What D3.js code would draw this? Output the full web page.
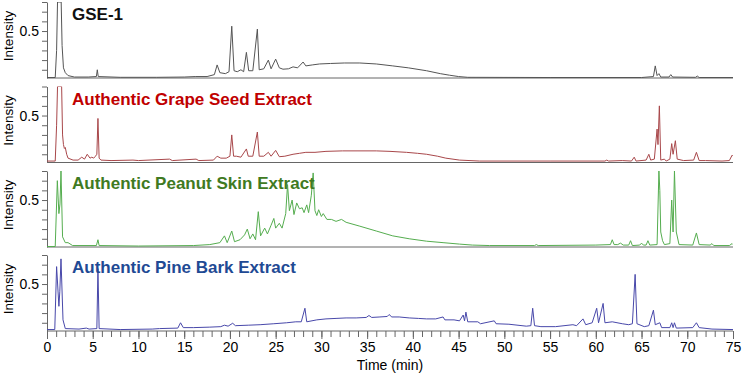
<!DOCTYPE html>
<html>
<head>
<meta charset="utf-8">
<script src="https://cdn.jsdelivr.net/npm/d3@7"></script>
<style>
  body { margin: 0; background: #fff; }
  text { font-family: "Liberation Sans", Arial, sans-serif; }
</style>
</head>
<body>
<div id="chart"></div>
<script>
// DATA (time in min, intensity)
const gse1 = [[0,0.02],[0.9,0.02],[1.05,0.3],[1.15,0.8],[1.55,0.8],[1.65,0.35],[1.8,0.12],[2.0,0.07],[2.3,0.04],[3,0.025],[4.5,0.025],[5.4,0.03],[5.5,0.1],[5.6,0.03],[8,0.022],[12,0.022],[15,0.025],[16.2,0.03],[17.5,0.03],[18.3,0.05],[18.6,0.15],[18.9,0.07],[19.5,0.06],[19.9,0.08],[20.2,0.55],[20.45,0.09],[20.8,0.08],[21.2,0.1],[21.5,0.08],[21.8,0.28],[22.05,0.09],[22.5,0.09],[23.0,0.52],[23.2,0.1],[23.7,0.11],[24.2,0.2],[24.5,0.11],[25.0,0.21],[25.4,0.12],[25.8,0.106],[26.4,0.11],[26.9,0.13],[27.4,0.12],[28.0,0.18],[28.3,0.14],[29.0,0.15],[29.8,0.16],[31,0.165],[32.5,0.17],[34.2,0.17],[36,0.16],[37.8,0.14],[39.5,0.12],[41.5,0.09],[43,0.06],[44,0.044],[45,0.03],[46,0.022],[55,0.02],[65,0.02],[66.3,0.03],[66.5,0.14],[66.7,0.04],[66.9,0.06],[67.1,0.025],[68.0,0.025],[68.2,0.05],[68.4,0.025],[70.9,0.022],[71.1,0.035],[71.3,0.02],[75,0.02]]

const grapeSeed = [[0,0.03],[0.9,0.03],[1.05,0.4],[1.15,0.8],[1.6,0.8],[1.7,0.3],[1.8,0.2],[1.9,0.16],[2.0,0.17],[2.15,0.1],[2.3,0.06],[2.85,0.04],[3.4,0.04],[3.8,0.07],[4.1,0.05],[4.4,0.1],[4.7,0.06],[4.9,0.07],[5.1,0.06],[5.3,0.08],[5.45,0.1],[5.57,0.47],[5.7,0.06],[5.9,0.04],[7,0.035],[9.4,0.04],[10,0.035],[13.4,0.05],[13.7,0.035],[16.3,0.05],[16.6,0.035],[18.2,0.04],[18.6,0.08],[19,0.06],[19.6,0.06],[20.0,0.08],[20.2,0.3],[20.4,0.08],[20.7,0.08],[21.2,0.07],[21.8,0.155],[22.0,0.08],[22.5,0.08],[23.0,0.33],[23.2,0.08],[23.7,0.08],[24.2,0.12],[24.5,0.08],[25.0,0.14],[25.4,0.075],[26.0,0.08],[26.9,0.1],[27.6,0.11],[28.3,0.12],[29.3,0.12],[30.5,0.13],[32.3,0.135],[34,0.135],[36,0.135],[37.5,0.13],[39.3,0.12],[40.5,0.11],[41.5,0.1],[42.7,0.08],[43.6,0.06],[45.1,0.04],[47.3,0.03],[55,0.03],[61,0.03],[61.2,0.04],[61.4,0.03],[62.9,0.035],[63.9,0.03],[64.2,0.07],[64.4,0.03],[65.5,0.04],[65.8,0.1],[66.0,0.04],[66.4,0.05],[66.7,0.36],[66.8,0.2],[66.95,0.6],[67.1,0.04],[67.5,0.05],[67.7,0.03],[68.1,0.05],[68.3,0.21],[68.45,0.1],[68.7,0.24],[68.9,0.05],[69.6,0.035],[70.7,0.04],[71.0,0.12],[71.3,0.035],[72,0.035],[73.8,0.03],[74.6,0.035],[74.9,0.09],[75,0.08]]

const peanutSkin = [[0,0.02],[0.9,0.02],[1.13,0.7],[1.3,0.36],[1.42,0.46],[1.53,0.8],[1.7,0.12],[2.0,0.06],[2.3,0.06],[2.8,0.03],[5.4,0.03],[5.57,0.09],[5.7,0.03],[10,0.025],[16,0.03],[17.8,0.04],[18.9,0.06],[19.4,0.13],[19.7,0.06],[20.2,0.18],[20.5,0.07],[21.1,0.09],[21.6,0.14],[21.9,0.2],[22.2,0.1],[22.5,0.15],[22.8,0.09],[23.1,0.38],[23.35,0.13],[23.8,0.21],[24.1,0.15],[24.5,0.24],[24.8,0.31],[25.0,0.21],[25.4,0.26],[25.7,0.21],[26.1,0.36],[26.3,0.66],[26.5,0.39],[26.8,0.5],[27.0,0.35],[27.3,0.47],[27.6,0.41],[27.9,0.42],[28.1,0.37],[28.4,0.45],[28.6,0.37],[28.9,0.55],[29.1,0.78],[29.3,0.39],[29.5,0.34],[29.7,0.4],[30.0,0.33],[30.2,0.36],[30.6,0.3],[31.1,0.3],[31.6,0.28],[32.2,0.3],[32.7,0.27],[34.2,0.23],[36,0.18],[37.8,0.13],[39.6,0.1],[41.5,0.075],[43.3,0.06],[45.1,0.045],[46.5,0.035],[48.4,0.03],[53.3,0.03],[53.5,0.04],[53.7,0.03],[60,0.035],[61.6,0.04],[61.8,0.09],[62.0,0.04],[62.4,0.04],[62.7,0.055],[63.0,0.035],[63.6,0.035],[63.8,0.08],[64.0,0.03],[64.8,0.035],[65.0,0.055],[65.2,0.035],[65.5,0.035],[65.7,0.08],[65.9,0.035],[66.7,0.04],[66.9,0.8],[67.0,0.6],[67.1,0.17],[67.3,0.08],[67.5,0.04],[68.1,0.05],[68.3,0.5],[68.45,0.17],[68.6,0.8],[68.8,0.17],[69.1,0.04],[70.6,0.035],[71.0,0.16],[71.3,0.04],[72.5,0.035],[72.7,0.05],[72.9,0.03],[74.6,0.03],[74.9,0.05],[75,0.04]]

const pineBark = [[0,0.03],[0.85,0.03],[1.05,0.68],[1.3,0.27],[1.4,0.42],[1.53,0.76],[1.75,0.13],[2.0,0.04],[3.5,0.035],[4.3,0.045],[4.6,0.035],[5.45,0.04],[5.57,0.66],[5.7,0.04],[8,0.03],[11.5,0.035],[12.3,0.04],[14.3,0.045],[14.6,0.1],[14.9,0.05],[16,0.05],[17.8,0.055],[19.0,0.06],[19.4,0.075],[19.8,0.065],[20.3,0.095],[20.6,0.07],[22,0.075],[23.3,0.08],[24.8,0.09],[26.2,0.1],[27.2,0.11],[27.8,0.11],[28.2,0.25],[28.4,0.11],[29.5,0.13],[30.5,0.14],[31.6,0.145],[32.7,0.15],[33.8,0.15],[34.9,0.155],[35.2,0.175],[35.5,0.155],[36.4,0.16],[37.2,0.165],[37.4,0.185],[37.7,0.16],[38.5,0.16],[39.6,0.15],[40.6,0.145],[41.5,0.14],[42.5,0.14],[43.3,0.16],[43.5,0.13],[44.5,0.13],[45.1,0.12],[45.5,0.18],[45.65,0.12],[45.8,0.21],[46.0,0.11],[47.1,0.11],[47.4,0.09],[48.9,0.12],[49.1,0.09],[50.5,0.085],[52.4,0.065],[52.9,0.07],[53.1,0.25],[53.3,0.07],[54,0.06],[55.6,0.06],[57.5,0.08],[57.9,0.07],[58.6,0.14],[58.9,0.08],[59.6,0.1],[60.1,0.25],[60.3,0.1],[60.8,0.3],[61.0,0.1],[61.8,0.11],[62.9,0.09],[63.6,0.08],[64.0,0.09],[64.3,0.6],[64.5,0.09],[65.3,0.06],[65.8,0.07],[66.3,0.23],[66.5,0.08],[67.0,0.1],[67.2,0.05],[68.1,0.05],[68.3,0.1],[68.45,0.05],[68.6,0.1],[68.8,0.045],[70.6,0.05],[71.0,0.1],[71.3,0.05],[72.7,0.035],[75,0.03]]

const titles = ["GSE-1", "Authentic Grape Seed Extract", "Authentic Peanut Skin Extract", "Authentic Pine Bark Extract"]
const titleColors = ["#111111", "#c00000", "#3f7a22", "#1f4a94"]
const lineColors = ["#555555", "#a8474a", "#55ad4f", "#4848aa"]
const series = [gse1, grapeSeed, peanutSkin, pineBark]

const width = 743
const height = 376
const left = 47, right = 733
const panelH = 76
const baselines = [78, 162.5, 247, 331]
const narrow = "'Liberation Sans Narrow', 'Arial Narrow', 'Liberation Sans', sans-serif"

const svg = d3.select("#chart")
  .append("svg")
  .attr("width", width)
  .attr("height", height)

const xScale = d3.scaleLinear()
  .domain([0, 75])
  .range([left, right])

series.forEach((data, i) => {
  const base = baselines[i]
  const yScale = d3.scaleLinear()
    .domain([0.015, 0.8])
    .range([base, base - panelH])

  const g = svg.append("g")

  // clip so peaks stop at the top of the panel
  svg.append("clipPath")
    .attr("id", "clip" + i)
    .append("rect")
    .attr("x", left).attr("y", base - panelH)
    .attr("width", right - left).attr("height", panelH)

  // baseline of each panel
  g.append("line")
    .attr("x1", left).attr("x2", right)
    .attr("y1", base).attr("y2", base)
    .attr("stroke", "#666")

  // y axis
  const yAxis = d3.axisLeft(yScale)
    .tickValues([0.1, 0.2, 0.3, 0.4, 0.5, 0.6, 0.7, 0.8])
    .tickFormat(d => Math.abs(d - 0.5) < 1e-9 ? "0.5" : "")
    .tickSize(5)
    .tickSizeOuter(0)
  g.append("g")
    .attr("transform", `translate(${left},0)`)
    .call(yAxis)
    .call(a => a.selectAll("path, line").attr("stroke", "#666"))
    .call(a => a.selectAll("text").attr("font-size", 14).attr("fill", "#000")
      .attr("font-family", narrow))

  g.append("text")
    .attr("transform", `translate(13, ${base - panelH + 34}) rotate(-90)`)
    .attr("text-anchor", "middle")
    .attr("font-size", 13.5)
    .attr("font-family", narrow)
    .text("Intensity")

  // trace
  const line = d3.line()
    .x(d => xScale(d[0]))
    .y(d => yScale(d[1]))
  g.append("path")
    .datum(data)
    .attr("clip-path", `url(#clip${i})`)
    .attr("d", line)
    .attr("fill", "none")
    .attr("stroke", lineColors[i])
    .attr("stroke-width", 1)

  // title
  g.append("text")
    .attr("x", 72)
    .attr("y", base - panelH + 18)
    .attr("font-family", "Lato, 'Open Sans', sans-serif")
    .attr("font-weight", "bold")
    .attr("font-size", 17)
    .attr("fill", titleColors[i])
    .text(titles[i])
})

// + DRAW TIME AXIS under the last panel
const lastBase = baselines[3]
svg.append("g")
  .attr("transform", `translate(0, ${lastBase})`)
  .call(d3.axisBottom(xScale).tickValues(d3.range(0, 76, 1)).tickSize(6).tickFormat(""))
  .call(a => a.select(".domain").remove())
  .call(a => a.selectAll("line").attr("stroke", "#666"))

svg.append("g")
  .attr("transform", `translate(0, ${lastBase})`)
  .call(d3.axisBottom(xScale).tickValues(d3.range(0, 76, 5)).tickSize(8).tickPadding(3))
  .call(a => a.select(".domain").remove())
  .call(a => a.selectAll("line").attr("stroke", "#666"))
  .call(a => a.selectAll("text").attr("font-size", 14).attr("fill", "#000")
    .attr("font-family", narrow))

svg.append("text")
  .attr("x", (left + right) / 2)
  .attr("y", 370)
  .attr("text-anchor", "middle")
  .attr("font-size", 14)
  .attr("font-family", narrow)
  .text("Time (min)")
</script>
</body>
</html>
